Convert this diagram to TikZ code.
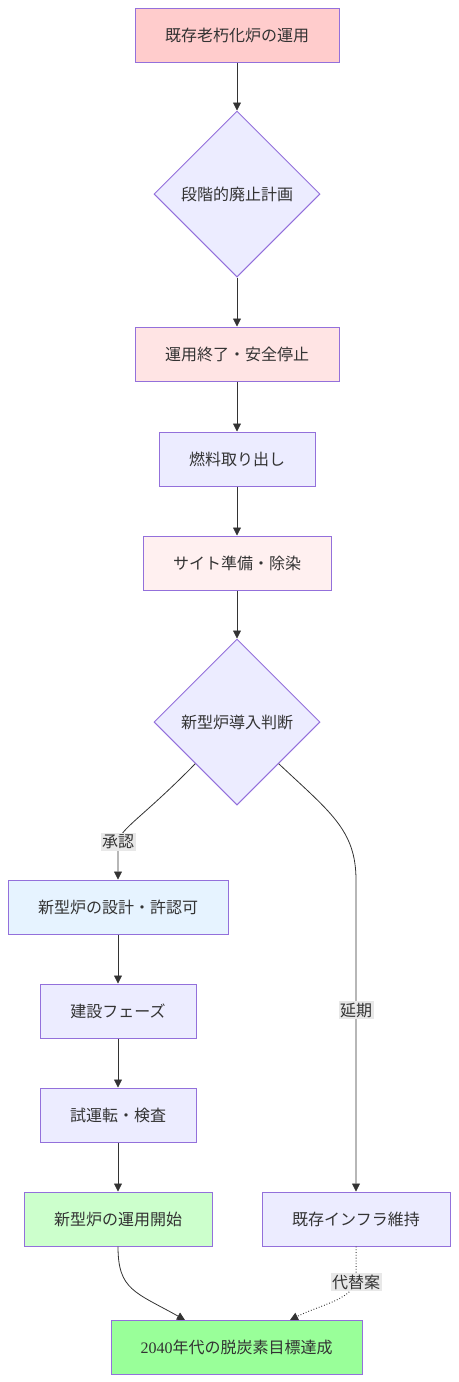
\documentclass[tikz,border=0pt]{standalone}
\usepackage{fontspec}
\setmainfont{Noto Sans CJK JP}
\newfontfamily\digitfont{Liberation Serif}
\usetikzlibrary{shapes.geometric,arrows.meta}
\definecolor{strokec}{HTML}{9370DB}
\definecolor{textc}{HTML}{333333}
\definecolor{defc}{HTML}{ECECFF}
\definecolor{pinkA}{HTML}{FFCCCC}
\definecolor{pinkB}{HTML}{FFE4E4}
\definecolor{pinkC}{HTML}{FFF0F0}
\definecolor{blueA}{HTML}{E6F3FF}
\definecolor{greenA}{HTML}{CCFFCC}
\definecolor{greenB}{HTML}{99FF99}
\definecolor{lblc}{HTML}{E8E8E8}
\tikzset{
  box/.style={draw=strokec, line width=1pt, fill=defc, minimum height=54pt, inner sep=0pt, text=textc, font=\fontsize{16}{19}\selectfont},
  dia/.style={diamond, aspect=1, draw=strokec, line width=1pt, fill=defc, minimum width=166pt, minimum height=166pt, inner sep=0pt, text=textc, font=\fontsize{16}{19}\selectfont},
  edge/.style={draw=textc, line width=0.8pt, -{Triangle[length=8pt,width=8pt]}},
  dedge/.style={edge, dotted, line width=1pt},
  lbl/.style={fill=lblc, text=textc, inner sep=1.5pt, font=\fontsize{16}{19}\selectfont},
}
\begin{document}
\begin{tikzpicture}[x=1pt,y=-1pt]
\useasboundingbox (0,0) rectangle (458,1382);
\node[box, fill=pinkA, minimum width=204pt] (n1) at (237,35) {既存老朽化炉の運用};
\node[dia] (d1) at (237,194) {段階的廃止計画};
\node[box, fill=pinkB, minimum width=204pt] (n3) at (237,354) {運用終了・安全停止};
\node[box, minimum width=156pt] (n4) at (237,459) {燃料取り出し};
\node[box, fill=pinkC, minimum width=188pt] (n5) at (237,563) {サイト準備・除染};
\node[dia] (d2) at (237,722) {新型炉導入判断};
\node[box, fill=blueA, minimum width=220pt] (n7) at (118,907) {新型炉の設計・許認可};
\node[box, minimum width=156pt] (n8) at (118,1011) {建設フェーズ};
\node[box, minimum width=156pt] (n9) at (118,1115) {試運転・検査};
\node[box, fill=greenA, minimum width=188pt] (n10) at (118,1219) {新型炉の運用開始};
\node[box, minimum width=188pt] (n11) at (356,1219) {既存インフラ維持};
\node[box, fill=greenB, minimum width=251pt] (n12) at (236.5,1347) {{\digitfont 2040}年代の脱炭素目標達成};

\coordinate (c1) at (118,842);
\coordinate (c2) at (356,1010);
\coordinate (c3) at (356,1282);

\draw[edge] (n1) -- (d1);
\draw[edge] (d1) -- (n3);
\draw[edge] (n3) -- (n4);
\draw[edge] (n4) -- (n5);
\draw[edge] (n5) -- (d2);
\draw[edge] (d2.south west) .. controls (142,818) and (121,828) .. (c1) -- (n7.north);
\draw[edge] (d2.south east) .. controls (330,812) and (356,830) .. (356,880) -- (c2) -- (n11.north);
\draw[edge] (n7) -- (n8);
\draw[edge] (n8) -- (n9);
\draw[edge] (n9) -- (n10);
\draw[edge] (n10.south) .. controls (118,1290) and (135,1292) .. (185,1320);
\draw[dedge] (n11.south) -- (c3) .. controls (350,1300) and (320,1305) .. (290,1320);

\node[lbl] (l1) at (c1) {承認};
\node[lbl] (l2) at (c2) {延期};
\node[lbl] (l3) at (c3) {代替案};
\end{tikzpicture}
\end{document}
